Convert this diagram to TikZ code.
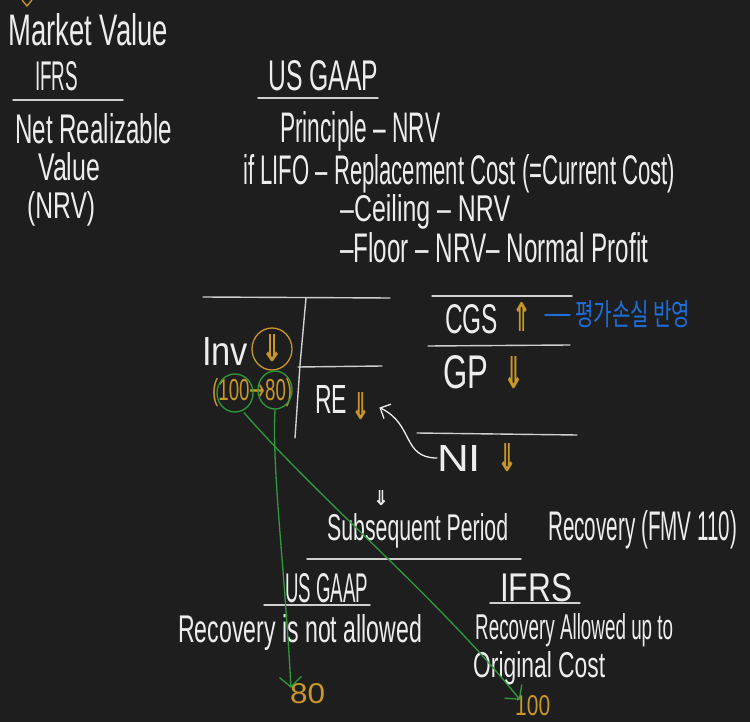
\documentclass[tikz,border=0pt]{standalone}
\usepackage{fontspec}
\setmainfont{Liberation Sans}
\newfontfamily\djv{DejaVu Sans}
\newfontfamily\kr{Noto Sans CJK KR}
\usepackage{graphicx}
\usetikzlibrary{arrows.meta,shapes.geometric}
\definecolor{bg}{HTML}{1E1E1E}
\definecolor{wh}{HTML}{EDEDED}
\definecolor{ln}{HTML}{CFCFCF}
\definecolor{og}{HTML}{C8962A}
\definecolor{gr}{HTML}{2F9A3C}
\definecolor{bl}{HTML}{1F6FDB}
\newcommand\hw[3]{\resizebox{#1pt}{#2pt}{#3}}
\newcommand\darr{{\djv\bfseries ⇓}}
\newcommand\uarr{{\djv\bfseries ⇑}}
\begin{document}
\begin{tikzpicture}[x=1pt,y=-1pt,
  txt/.style={inner sep=0pt, anchor=base west, text=wh, font=\fontsize{20}{24}\selectfont},
  otxt/.style={txt, text=og},
  rule/.style={draw=ln, line width=1.4pt, line cap=round},
  gcirc/.style={draw=gr, line width=1.3pt, ellipse, inner sep=0pt},
  garrow/.style={draw=gr, line width=1.3pt, line cap=round, -{Straight Barb[length=10pt,width=22pt,line width=1.3pt]}},
  warrow/.style={draw=wh, line width=1.3pt, line cap=round, -{Straight Barb[length=8pt,width=16pt,line width=1.3pt]}}]
\useasboundingbox (0,0) rectangle (750,722);
\fill[bg] (0,0) rectangle (750,722);

% tiny orange mark at the top
\draw[og, line width=1.3pt, line cap=round] (22,0) -- (27,6) -- (32,0);

% ---- top left: IFRS
\node[txt] (mv) at (8,46) {\hw{160}{32}{Market Value}};
\node[txt] (ifrs1) at (35,91) {\hw{43}{29}{IFRS}};
\draw[rule] (13,100) -- (123,100);
\node[txt] (nrv1) at (15,144) {\hw{157}{30}{Net Realizable}};
\node[txt] (val1) at (38,181) {\hw{62}{28}{Value}};
\node[txt] (nrv2) at (27,219) {\hw{68}{27}{(NRV)}};

% ---- top right: US GAAP
\node[txt] (usg1) at (268,91) {\hw{110}{30}{US GAAP}};
\draw[rule] (258,98) -- (378,98);
\node[txt] (pr) at (280,143) {\hw{160}{31}{Principle – NRV}};
\node[txt] (lifo) at (243,185) {\hw{432}{30}{if LIFO – Replacement Cost (=Current Cost)}};
\node[txt] (ceil) at (340,222) {\hw{170}{27}{–Ceiling – NRV}};
\node[txt] (floor) at (340,262) {\hw{308}{30}{–Floor – NRV– Normal Profit}};

% ---- T account
\draw[rule] (203,297) -- (390,298);
\draw[rule] (306,298) -- (300,365) -- (295,438);
\draw[rule] (298,367) -- (382,366);
\node[txt] (inv) at (202,365) {\hw{46}{28}{Inv}};
\node[otxt] (invDown) at (261,361) {\hw{22}{27}{\darr}};
\node[draw=og, line width=1.3pt, ellipse, minimum width=40pt, minimum height=42pt, inner sep=0pt] (invCirc) at (272,349) {};
\node[otxt] (chg) at (212,400) {\hw{80}{22}{(100{\djv →}80)}};
\node[gcirc, minimum width=36pt, minimum height=38pt] (c100) at (235,393) {};
\node[gcirc, minimum width=34pt, minimum height=38pt] (c80) at (275,390) {};
\node[txt] (re) at (315,413) {\hw{32}{28}{RE}};
\node[otxt] (reDown) at (351,419) {\hw{19}{27}{\darr}};

% ---- income statement
\draw[rule] (432,296) -- (572,296);
\node[txt] (cgs) at (445,334) {\hw{53}{29}{CGS}};
\node[otxt] (cgsUp) at (512,331) {\hw{19}{29}{\uarr}};
\draw[bl, line width=1.4pt, line cap=round] (545,315) -- (570,315);
\node[txt, text=bl] (kor) at (575,325) {\hw{115}{25}{\kr 평가손실 반영}};
\draw[rule] (428,346) -- (570,345);
\node[txt] (gp) at (443,388) {\hw{45}{33}{GP}};
\node[otxt] (gpDown) at (503,388) {\hw{21}{32}{\darr}};
\draw[rule] (417,433) -- (577,435);
\node[txt] (ni) at (437,471) {\hw{44}{26}{NI}};
\node[otxt] (niDown) at (497,471) {\hw{20}{28}{\darr}};
\draw[warrow] (ni.west) .. controls (402,458) and (414,424) .. ([xshift=9pt,yshift=-2pt]reDown.east);

% ---- subsequent period
\node[txt] (sDown) at (373,505) {\hw{16}{15}{\darr}};
\node[txt] (subs) at (327,540) {\hw{181}{27}{Subsequent Period}};
\draw[rule] (307,559) -- (521,559);
\node[txt] (recov) at (548,540) {\hw{189}{30}{Recovery (FMV 110)}};
\node[txt] (usg2) at (285,602) {\hw{83}{29}{US GAAP}};
\draw[rule] (264,605) -- (370,605);
\node[txt] (ifrs2) at (500,601) {\hw{72}{28}{IFRS}};
\draw[rule] (490,603) -- (580,603);
\node[txt] (notal) at (178,642) {\hw{244}{28}{Recovery is not allowed}};
\node[txt] (al) at (475,639) {\hw{198}{26}{Recovery Allowed up to}};
\node[txt] (oc) at (473,677) {\hw{132}{26}{Original Cost}};
\node[otxt] (n80) at (290,703) {\hw{35}{20}{80}};
\node[otxt] (n100) at (515,715) {\hw{35}{20}{100}};

% ---- green connectors
\draw[garrow] (c80.south) .. controls (272,470) and (284,560) .. ([xshift=1pt,yshift=-5pt]n80.north west);
\draw[garrow] ([xshift=9pt]c100.south) .. controls (320,500) and (440,600) .. ([xshift=5pt,yshift=-5pt]n100.north west);
\end{tikzpicture}
\end{document}
